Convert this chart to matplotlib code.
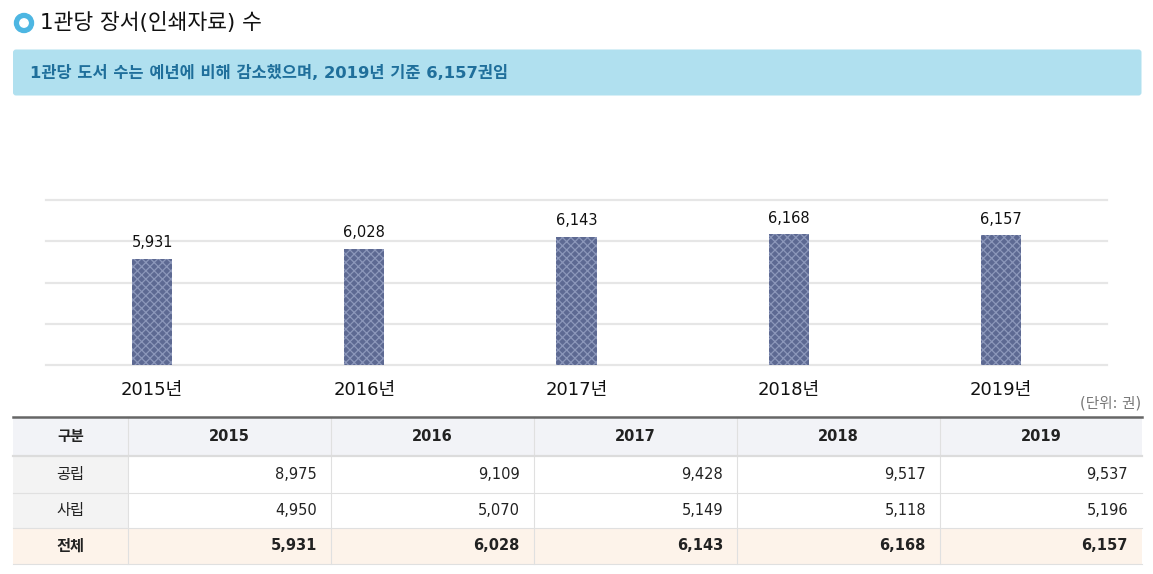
import matplotlib
matplotlib.use("Agg")
import matplotlib.pyplot as plt
from matplotlib.patches import Rectangle, FancyBboxPatch, Circle
import numpy as np

plt.rcParams['font.family'] = ['DejaVu Sans', 'Noto Sans CJK KR']
plt.rcParams['hatch.linewidth'] = 0.9

# ---- data ----
years = [2015, 2016, 2017, 2018, 2019]
year_labels = ['2015년', '2016년', '2017년', '2018년', '2019년']
public = [8975, 9109, 9428, 9517, 9537]
private = [4950, 5070, 5149, 5118, 5196]
total = [5931, 6028, 6143, 6168, 6157]
row_labels = ['공립', '사립', '전체']
header_first = '구분'
title = '1관당 장서(인쇄자료) 수'
summary = '1관당 도서 수는 예년에 비해 감소했으며, 2019년 기준 6,157권임'
unit = '(단위: 권)'

W, H = 1153, 574
fig = plt.figure(figsize=(W / 100, H / 100), dpi=100)
fig.patch.set_facecolor('white')

# background overlay in pixel coords
bg = fig.add_axes([0, 0, 1, 1], zorder=0)
bg.set_xlim(0, W)
bg.set_ylim(H, 0)
bg.axis('off')

# title icon + title
bg.add_patch(Circle((24, 23), 9.5, color='#4db6e2', zorder=2))
bg.add_patch(Circle((24, 23), 4.2, color='white', zorder=3))
bg.text(40, 22.5, title, fontsize=15.5, color='#111111', va='center', ha='left')

# info box
bg.add_patch(FancyBboxPatch((13, 49.5), 1128.5, 46, boxstyle='round,pad=0,rounding_size=3',
                            facecolor='#b0e0ef', edgecolor='none', zorder=1))
bg.text(30, 73, summary, fontsize=11.8, fontweight='bold', color='#1f6f9b',
        va='center', ha='left', zorder=2)

# ---- bar chart ----
L, R, T, B = 46, 1107, 200, 365
ax = fig.add_axes([L / W, 1 - B / H, (R - L) / W, (B - T) / H], zorder=2)
ax.patch.set_alpha(0)
ymin, ymax = 4900, 6500
x = np.arange(len(years))
bars = ax.bar(x, total, width=0.19, bottom=0, color='#5d6992', edgecolor='#8c97ba',
              hatch='xxxx', linewidth=0, zorder=3)
ax.set_xlim(-0.5, len(years) - 0.5)
ax.set_ylim(ymin, ymax)
ax.set_yticks(np.linspace(ymin, ymax, 5))
ax.yaxis.grid(True, color='#e6e6e6', linewidth=1.6, zorder=0)
for gl in ax.get_ygridlines():
    gl.set_clip_on(False)
ax.set_axisbelow(True)
ax.tick_params(axis='y', left=False, labelleft=False)
ax.tick_params(axis='x', bottom=False, pad=8)
ax.set_xticks(x)
ax.set_xticklabels(year_labels, fontsize=13, color='#111111')
for s in ax.spines.values():
    s.set_visible(False)
for xi, v in zip(x, total):
    ax.annotate(f'{v:,}', (xi, v), xytext=(0, 6), textcoords='offset points',
                ha='center', va='bottom', fontsize=10.5, color='#111111')

# ---- unit ----
bg.text(1141, 403, unit, fontsize=10.5, color='#777777', ha='right', va='center')

# ---- table ----
col_edges = [13, 128, 331, 534, 737, 940, 1142]
row_edges = [417, 456, 493, 528, 564]
header_bg = '#f2f3f7'
first_bg = '#f3f3f3'
total_bg = '#fdf3ea'
line_c = '#e0e0e0'

rows = [public, private, total]
for r in range(4):
    y0, y1 = row_edges[r], row_edges[r + 1]
    for c in range(6):
        x0, x1 = col_edges[c], col_edges[c + 1]
        if r == 0:
            fc = header_bg
        elif r == 3:
            fc = total_bg
        elif c == 0:
            fc = first_bg
        else:
            fc = 'white'
        bg.add_patch(Rectangle((x0, y0), x1 - x0, y1 - y0, facecolor=fc,
                               edgecolor='none', zorder=1))
        yc = (y0 + y1) / 2
        if r == 0:
            txt = header_first if c == 0 else str(years[c - 1])
            bg.text((x0 + x1) / 2, yc, txt, fontsize=10.5, fontweight='bold',
                    color='#222222', ha='center', va='center', zorder=3)
        else:
            bold = 'bold' if r == 3 else 'normal'
            if c == 0:
                bg.text((x0 + x1) / 2, yc, row_labels[r - 1], fontsize=11,
                        fontweight=bold, color='#222222', ha='center', va='center', zorder=3)
            else:
                bg.text(x1 - 14, yc, f'{rows[r - 1][c - 1]:,}', fontsize=10.5,
                        fontweight=bold, color='#222222', ha='right', va='center', zorder=3)

# grid lines of table
for ci in col_edges[1:-1]:
    bg.plot([ci, ci], [row_edges[0], row_edges[-1]], color=line_c, lw=0.8, zorder=2)
for ri in row_edges[2:]:
    bg.plot([col_edges[0], col_edges[-1]], [ri, ri], color=line_c, lw=0.8, zorder=2)
bg.plot([col_edges[0], col_edges[-1]], [row_edges[1], row_edges[1]], color='#dcdcdc', lw=1.6, zorder=2)
bg.plot([col_edges[0], col_edges[-1]], [row_edges[0], row_edges[0]], color='#666666', lw=1.8, zorder=2)

fig.savefig('out.png', dpi=100, facecolor='white')
